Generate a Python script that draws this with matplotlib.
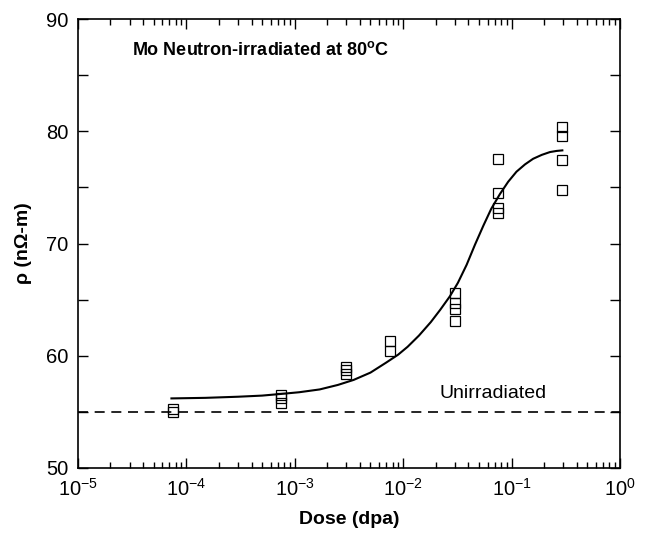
import matplotlib
matplotlib.use("Agg")
import matplotlib.pyplot as plt
from matplotlib.ticker import LogLocator, MultipleLocator, NullFormatter

plt.rcParams["font.family"] = ["Liberation Sans", "DejaVu Sans"]
plt.rcParams["mathtext.fontset"] = "custom"
plt.rcParams["mathtext.rm"] = "Liberation Sans"
plt.rcParams["mathtext.bf"] = "Liberation Sans:bold"

# measured resistivity, one list per dose
dose = [7.5e-5, 7.5e-4, 3e-3, 7.5e-3, 3e-2, 7.5e-2, 0.29]
rho = [
    [55.3, 55.0],
    [56.5, 56.2, 55.8],
    [59.0, 58.7, 58.4],
    [61.3, 60.4],
    [65.6, 64.7, 64.2, 63.1],
    [77.5, 74.5, 73.2, 72.7],
    [80.4, 79.6, 77.4, 74.8],
]

# fitted curve
fit_x = [7.3e-5, 1.5e-4, 3e-4, 5e-4, 7.5e-4, 1.1e-3, 1.7e-3, 2.5e-3, 3.5e-3,
         5e-3, 7e-3, 9e-3, 1.1e-2, 1.4e-2, 1.8e-2, 2.2e-2, 2.7e-2, 3.2e-2,
         3.85e-2, 4.6e-2, 5.5e-2, 6.5e-2, 7.8e-2, 9.3e-2, 0.111, 0.133,
         0.158, 0.19, 0.226, 0.26, 0.294]
fit_y = [56.2, 56.25, 56.35, 56.45, 56.6, 56.75, 57.0, 57.4, 57.85,
         58.5, 59.4, 60.1, 60.8, 61.8, 63.0, 64.1, 65.3, 66.5,
         68.1, 69.9, 71.6, 73.1, 74.4, 75.5, 76.4, 77.05,
         77.55, 77.9, 78.15, 78.25, 78.3]

unirr = 55.0

fig = plt.figure(figsize=(6.54, 5.37), dpi=100)
ax = fig.add_axes([0.119, 0.1285, 0.829, 0.836])

for d, vals in zip(dose, rho):
    ax.plot([d] * len(vals), vals, "s", ms=7, mfc="none", mec="black", mew=0.9)

ax.plot(fit_x, fit_y, "-", color="black", lw=1.5)
ax.axhline(unirr, color="black", lw=1.2, ls=(0, (6, 4)))

ax.set_xscale("log")
ax.set_xlim(1e-5, 1)
ax.set_ylim(50, 90)
ax.xaxis.set_major_locator(LogLocator(base=10, numticks=10))
ax.xaxis.set_minor_locator(LogLocator(base=10, subs=range(2, 10), numticks=10))
ax.xaxis.set_minor_formatter(NullFormatter())
ax.yaxis.set_major_locator(MultipleLocator(10))
ax.yaxis.set_minor_locator(MultipleLocator(5))

ax.tick_params(which="both", direction="in", top=True, right=True, width=1.0)
ax.tick_params(which="major", length=7, labelsize=14.5, pad=7)
ax.tick_params(axis="x", which="minor", length=4)
ax.tick_params(axis="y", which="minor", length=7)
for s in ax.spines.values():
    s.set_linewidth(1.2)

ax.set_xlabel("Dose (dpa)", fontsize=14, fontweight="bold", labelpad=8)
ax.set_ylabel("ρ (nΩ-m)", fontsize=14, fontweight="bold", labelpad=10)

ax.text(0.1, 0.92, r"Mo Neutron-irradiated at 80$^{\mathbf{o}}$C", transform=ax.transAxes,
        fontsize=13, fontweight="bold", ha="left", va="baseline")
ax.text(0.21, 56.2, "Unirradiated", fontsize=14, ha="right", va="baseline")

fig.savefig("out.png", dpi=100)
